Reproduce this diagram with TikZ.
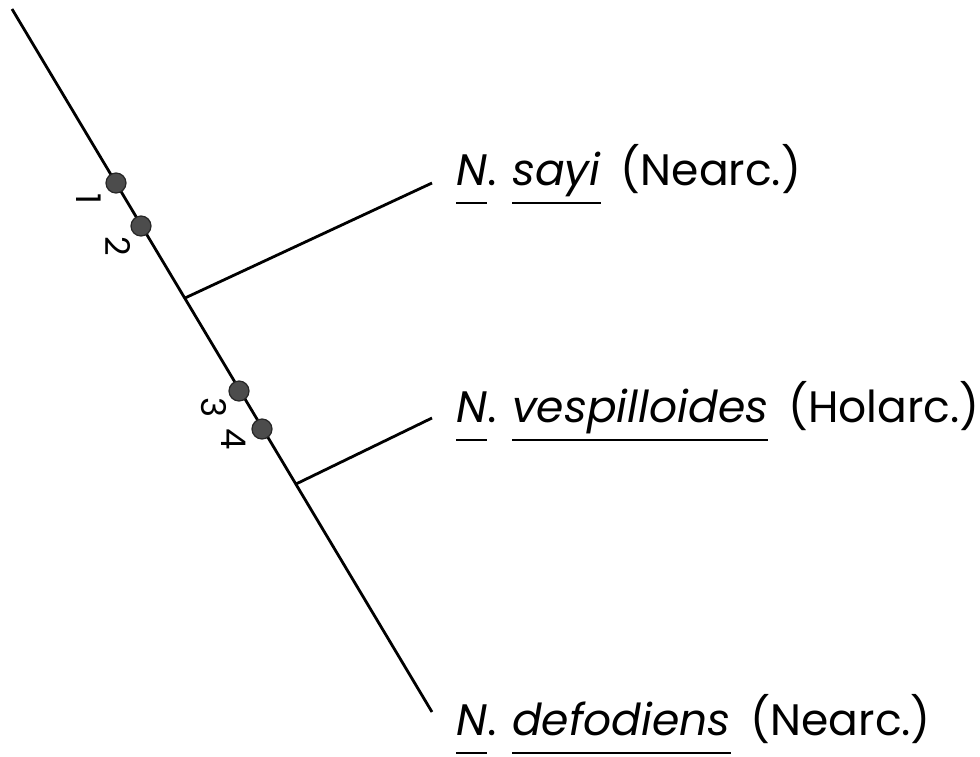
\documentclass[tikz,border=0pt]{standalone}
\usepackage{fontspec}
\setmainfont{Poppins}
\usepackage{tikz}
\usetikzlibrary{calc}

% underline set at a fixed depth below the baseline
\newcommand{\ulin}[1]{\setbox0\hbox{#1}\rlap{\rule[-9.5pt]{\wd0}{0.9pt}}\box0}

\begin{document}
\begin{tikzpicture}[x=0.5pt, y=-0.5pt, line width=1.4pt,
	sitedot/.style={fill=black!70, draw=black!85, line width=0.6pt},
	sitenum/.style={font=\fontsize{17}{17}\selectfont, rotate=-90, inner sep=0pt},
	taxon/.style={anchor=base west, inner sep=0pt, font=\fontsize{22}{24}\selectfont}]
	\useasboundingbox (0,0) rectangle (980,756);
	
	\coordinate (root) at (12,9);
	\coordinate (tipA) at (432,183);
	\coordinate (tipB) at (432,418);
	\coordinate (tipC) at (432,712);
	\coordinate (forkA) at (185,298);
	\coordinate (forkB) at (296,484);
	
	\draw (root) -- (tipC);
	\draw (forkA) -- (tipA);
	\draw (forkB) -- (tipB);
	
	\draw[sitedot] (116,183) circle (10);
	\draw[sitedot] (141,226) circle (10);
	\draw[sitedot] (239,391) circle (10);
	\draw[sitedot] (262,429) circle (10);
	
	\node[sitenum] (n1) at (89,199) {1};
	\node[sitenum] (n2) at (118,246) {2};
	\node[sitenum] (n3) at (214,408) {3};
	\node[sitenum] (n4) at (234,439) {4};
	
	\node[taxon] (sayi) at (455,185) {\ulin{\textit{N}}. \ulin{\textit{sayi}}\hspace{0.45em}(Nearc.)};
	\node[taxon] (vesp) at (455,422) {\ulin{\textit{N}}. \ulin{\textit{vespilloides}}\hspace{0.45em}(Holarc.)};
	\node[taxon] (defo) at (455,735) {\ulin{\textit{N}}. \ulin{\textit{defodiens}}\hspace{0.45em}(Nearc.)};
\end{tikzpicture}
\end{document}
